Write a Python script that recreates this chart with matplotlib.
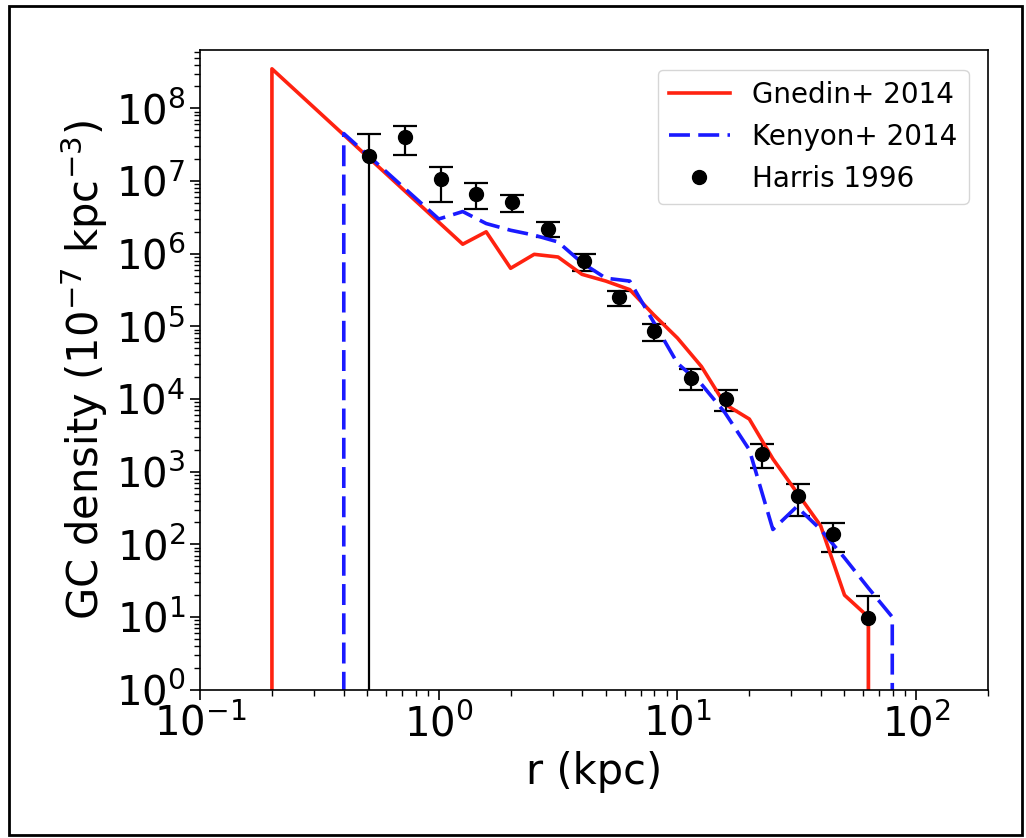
import matplotlib
matplotlib.use("Agg")
import matplotlib.pyplot as plt
from matplotlib.patches import Rectangle
from matplotlib.ticker import LogLocator

# Gnedin+ 2014 model profile
r_gnedin = [0.2, 0.2, 1.26, 1.58, 2.0, 2.51, 3.16, 3.98, 5.01, 6.31, 7.94, 10.0,
            12.6, 15.8, 20.0, 25.1, 31.6, 39.8, 50.1, 63.1, 63.1]
rho_gnedin = [0, 3.5e8, 1.35e6, 2.0e6, 6.3e5, 9.8e5, 9.0e5, 5.2e5, 4.2e5, 3.2e5,
              1.45e5, 6.9e4, 2.8e4, 8.5e3, 5.3e3, 1.5e3, 5.2e2, 1.8e2, 20, 10, 0]

# Kenyon+ 2014 model profile
r_kenyon = [0.4, 0.4, 1.0, 1.26, 1.58, 2.0, 2.51, 3.16, 3.98, 5.01, 6.31, 7.94,
            10.0, 12.6, 15.8, 20.0, 25.1, 31.6, 39.8, 50.1, 63.1, 79.4, 79.4]
rho_kenyon = [0, 4.5e7, 3.0e6, 3.8e6, 2.6e6, 2.1e6, 1.8e6, 1.45e6, 7.5e5, 4.6e5,
              4.2e5, 1.15e5, 3.1e4, 1.6e4, 6.5e3, 2.0e3, 1.6e2, 3.3e2, 1.6e2,
              65, 25, 10, 0]

# Harris 1996 catalogue densities
r_harris = [0.51, 0.72, 1.02, 1.43, 2.03, 2.87, 4.05, 5.7, 8.0, 11.4, 16.0,
            22.7, 32.0, 44.8, 63.1]
rho_harris = [2.2e7, 4.0e7, 1.05e7, 6.7e6, 5.1e6, 2.2e6, 7.9e5, 2.5e5, 8.5e4,
              1.95e4, 1.0e4, 1.75e3, 465, 138, 9.7]
err_harris = [2.2e7, 1.7e7, 5.3e6, 2.6e6, 1.3e6, 5.2e5, 2.1e5, 6.0e4, 2.2e4,
              6.4e3, 3.2e3, 6.2e2, 220, 60, 9.7]

fig = plt.figure(figsize=(10.26, 8.38), dpi=100)
ax = fig.add_axes([0.195, 0.177, 0.768, 0.763])

ax.errorbar(r_harris, rho_harris, yerr=err_harris, fmt='none', ecolor='black',
            elinewidth=1.6, capsize=8.5, capthick=1.6, zorder=1)
ax.plot(r_gnedin, rho_gnedin, color='#ff2210', lw=2.6, label='Gnedin+ 2014', zorder=2)
ax.plot(r_kenyon, rho_kenyon, color='#1a1aff', lw=2.6, ls='--', dashes=(5.8, 2.3),
        label='Kenyon+ 2014', zorder=2)
ax.plot(r_harris, rho_harris, 'o', color='black', ms=10, label='Harris 1996', zorder=3)

ax.set_xscale('log')
ax.set_yscale('log')
ax.set_xlim(0.1, 200)
ax.set_ylim(1, 6.3e8)
for axis in (ax.xaxis, ax.yaxis):
    axis.set_major_locator(LogLocator(base=10, numticks=20))
    axis.set_minor_locator(LogLocator(base=10, subs=range(2, 10), numticks=20))

ax.set_xlabel('r (kpc)', fontsize=30)
ax.set_ylabel('GC density (10$^{-7}$ kpc$^{-3}$)', fontsize=30)
ax.tick_params(axis='both', which='major', labelsize=29, length=7, width=1.2)
ax.tick_params(axis='both', which='minor', length=4, width=1.0)
for s in ax.spines.values():
    s.set_linewidth(1.2)

ax.legend(loc='upper right', fontsize=20, numpoints=1, handlelength=2.2,
          borderaxespad=0.7)

# outer frame around the figure
fig.patches.append(Rectangle((0.009, 0.003), 0.987, 0.99, transform=fig.transFigure,
                             fill=False, edgecolor='black', lw=2))

fig.savefig('out.png', dpi=100)
